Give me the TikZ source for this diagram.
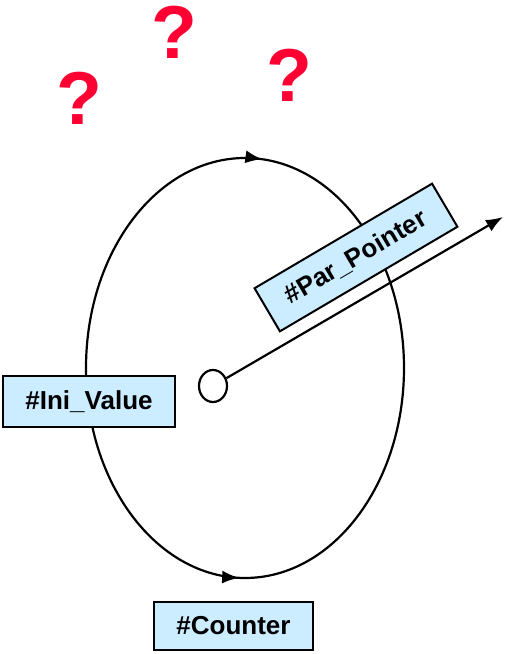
\documentclass[tikz,border=0pt]{standalone}
\usepackage{fontspec}
\setmainfont{Liberation Sans}
\usetikzlibrary{arrows.meta,decorations.markings,shapes.geometric}
\definecolor{boxblue}{HTML}{CCECFF}
\definecolor{queryred}{HTML}{FF0033}
\tikzset{
  varbox/.style={draw=black, line width=2pt, fill=boxblue, inner sep=0pt,
    font=\bfseries\fontsize{26}{30}\selectfont},
  query/.style={text=queryred, inner sep=0pt, font=\bfseries\fontsize{75}{80}\selectfont},
  loopline/.style={line width=2.2pt, postaction={decorate},
    decoration={markings,
      mark=at position 0.235 with {\arrowreversed{Latex[length=17pt,width=13pt]}},
      mark=at position 0.745 with {\arrow{Latex[length=17pt,width=13pt]}}}}
}
\begin{document}
\begin{tikzpicture}[x=1pt,y=1pt]
  \useasboundingbox (0,0) rectangle (504,654);
  % question marks
  \node[query] (q1) at (79,556) {?};
  \node[query] (q2) at (174,622) {?};
  \node[query] (q3) at (289,579) {?};
  % the loop
  \draw[loopline] (245,286) ellipse (159 and 210);
  % pointer
  \node[draw, ellipse, line width=2.2pt, minimum width=28pt, minimum height=32pt, inner sep=0pt] (ptr) at (213,268) {};
  \coordinate (tip) at (503,437);
  \draw[line width=2.2pt, -{Latex[length=17pt,width=13pt]}] (ptr) -- (tip);
  % boxes
  \node[varbox, minimum width=172pt, minimum height=51pt] (ini) at (89,252.5) {\#Ini\_Value};
  \node[varbox, minimum width=159pt, minimum height=48pt] (cnt) at (233.5,28) {\#Counter};
  \node[varbox, minimum width=206pt, minimum height=50pt, rotate=30.5] (par) at (356,396.5) {\#Par\_Pointer};
\end{tikzpicture}
\end{document}
